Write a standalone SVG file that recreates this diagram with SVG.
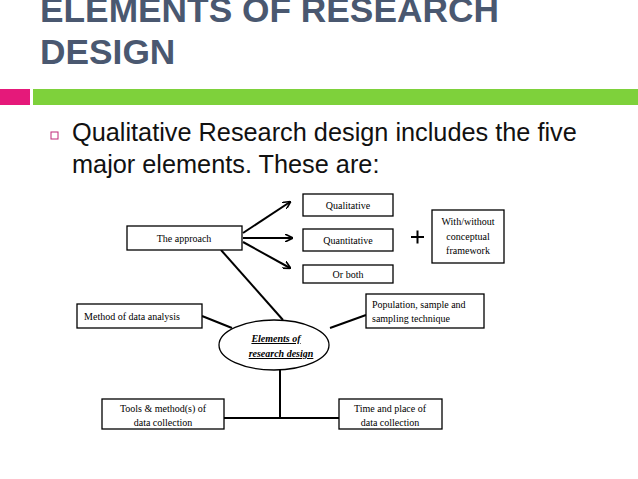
<svg xmlns="http://www.w3.org/2000/svg" width="638" height="479" viewBox="0 0 638 479">
<style>
.t{font-family:"Liberation Sans",Arial,sans-serif}
.s{font-family:"Liberation Serif","Times New Roman",serif;font-size:10px;fill:#000;text-anchor:middle}
.l{text-anchor:start}
.b{fill:#fff;stroke:#000;stroke-width:1.3}
.c{stroke:#000;stroke-width:2;fill:none}
</style>
<defs><marker id="a" markerWidth="8" markerHeight="8" refX="7" refY="4" orient="auto" markerUnits="userSpaceOnUse"><path d="M0,0 L8,4 L0,8" fill="none" stroke="#000" stroke-width="1.6"/></marker></defs>
<rect width="638" height="479" fill="#fff"/>
<text class="t" x="40" y="22" font-size="35.3" font-weight="bold" fill="#4a5870">ELEMENTS OF RESEARCH</text>
<text class="t" x="40" y="64" font-size="35.3" font-weight="bold" fill="#4a5870">DESIGN</text>
<rect x="0" y="89" width="30" height="16" fill="#e5197a"/>
<rect x="33" y="89" width="605" height="16" fill="#7ed13b"/>
<rect x="51" y="132" width="7" height="7" fill="none" stroke="#c0287a" stroke-width="1"/>
<text class="t" x="72" y="141" font-size="25.3" fill="#111">Qualitative Research design includes the five</text>
<text class="t" x="72" y="173" font-size="25.3" fill="#111">major elements. These are:</text>
<g id="connectors">
<line class="c" x1="243" y1="233" x2="290" y2="202" marker-end="url(#a)"/>
<line class="c" x1="243" y1="238" x2="292" y2="238" marker-end="url(#a)"/>
<line class="c" x1="243" y1="242" x2="290" y2="268" marker-end="url(#a)"/>
<line class="c" x1="221" y1="250" x2="283" y2="320"/>
<line class="c" x1="202" y1="316" x2="232" y2="328"/>
<line class="c" x1="330" y1="328" x2="366" y2="315"/>
<line class="c" x1="280" y1="370" x2="280" y2="418"/>
<line class="c" x1="224" y1="418" x2="339" y2="418"/>
</g>
<g id="qualitative"><rect class="b" x="303" y="194" width="90" height="22"/><text class="s" x="348" y="209">Qualitative</text></g>
<g id="quantitative"><rect class="b" x="303" y="229" width="90" height="22"/><text class="s" x="348" y="244">Quantitative</text></g>
<g id="orboth"><rect class="b" x="303" y="265" width="90" height="18"/><text class="s" x="348" y="278">Or both</text></g>
<g id="plus"><path d="M411,237 H424 M417.5,230.5 V243.5" stroke="#000" stroke-width="2"/></g>
<g id="framework"><rect class="b" x="432" y="210" width="72" height="53"/><text class="s" x="468" y="225">With/without</text><text class="s" x="468" y="240">conceptual</text><text class="s" x="468" y="254">framework</text></g>
<g id="approach"><rect class="b" x="127" y="226" width="115" height="24"/><text class="s" x="184" y="242">The approach</text></g>
<g id="method"><rect class="b" x="77" y="304" width="125" height="24"/><text class="s" x="132" y="320">Method of data analysis</text></g>
<g id="population"><rect class="b" x="366" y="294" width="118" height="34"/><text class="s l" x="372" y="308">Population, sample and</text><text class="s l" x="372" y="322">sampling technique</text></g>
<g id="center"><ellipse class="b" cx="274" cy="345" rx="55" ry="25"/><text class="s" x="276" y="342" font-style="italic" font-weight="bold" text-decoration="underline">Elements of</text><text class="s" x="281" y="357" font-style="italic" font-weight="bold" text-decoration="underline">research design</text></g>
<g id="tools"><rect class="b" x="102" y="399" width="122" height="30"/><text class="s" x="163" y="412">Tools &amp; method(s) of</text><text class="s" x="163" y="426">data collection</text></g>
<g id="time"><rect class="b" x="339" y="399" width="103" height="30"/><text class="s" x="390" y="412">Time and place of</text><text class="s" x="390" y="426">data collection</text></g>
</svg>
